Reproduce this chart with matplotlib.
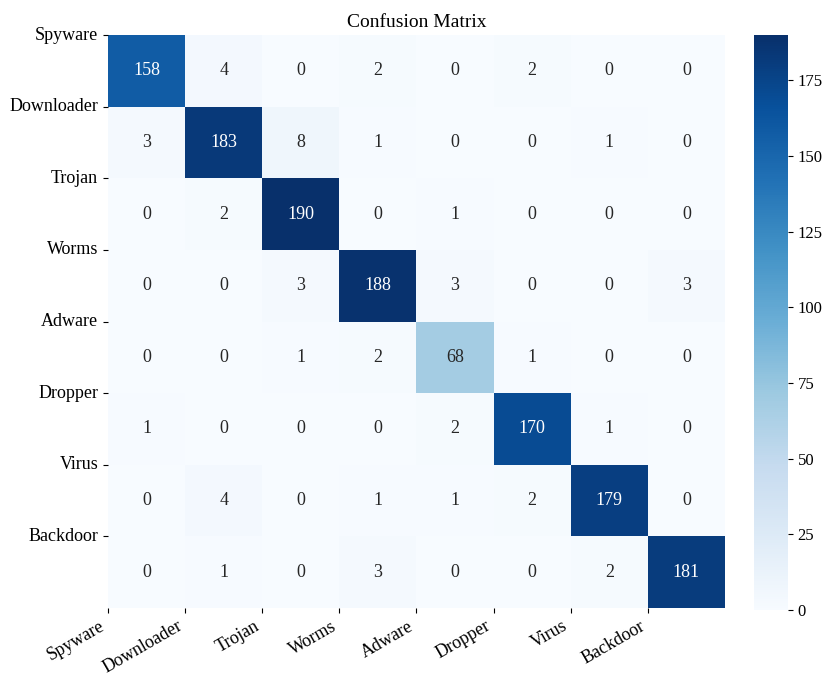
import numpy as np
import matplotlib.pyplot as plt
import seaborn as sns

plt.rcParams['font.family'] = ['Liberation Serif', 'DejaVu Serif']

classes = ["Spyware", "Downloader", "Trojan", "Worms", "Adware", "Dropper", "Virus", "Backdoor"]

# rows = true class, columns = predicted class
cm = np.array([
    [158, 4, 0, 2, 0, 2, 0, 0],
    [3, 183, 8, 1, 0, 0, 1, 0],
    [0, 2, 190, 0, 1, 0, 0, 0],
    [0, 0, 3, 188, 3, 0, 0, 3],
    [0, 0, 1, 2, 68, 1, 0, 0],
    [1, 0, 0, 0, 2, 170, 1, 0],
    [0, 4, 0, 1, 1, 2, 179, 0],
    [0, 1, 0, 3, 0, 0, 2, 181],
])

fig = plt.figure(figsize=(8.27, 6.76), dpi=100)
ax = fig.add_axes([0.1306, 0.1006, 0.746, 0.8476])
cax = fig.add_axes([0.9117, 0.0975, 0.041, 0.8506])

sns.heatmap(cm, annot=True, fmt="d", cmap="Blues", ax=ax, cbar_ax=cax,
            annot_kws={"fontsize": 13, "family": "Liberation Serif"})

ax.set_xticks(np.arange(len(classes)))
ax.set_yticks(np.arange(len(classes)))
ax.set_xticklabels(classes, rotation=30, ha="right", fontsize=13)
ax.set_yticklabels(classes, rotation=0, fontsize=13)
ax.set_title("Confusion Matrix", fontsize=14)

cax.tick_params(labelsize=12)
for t in cax.get_yticklabels():
    t.set_family("Liberation Serif")

fig.savefig("out.png", dpi=100)
